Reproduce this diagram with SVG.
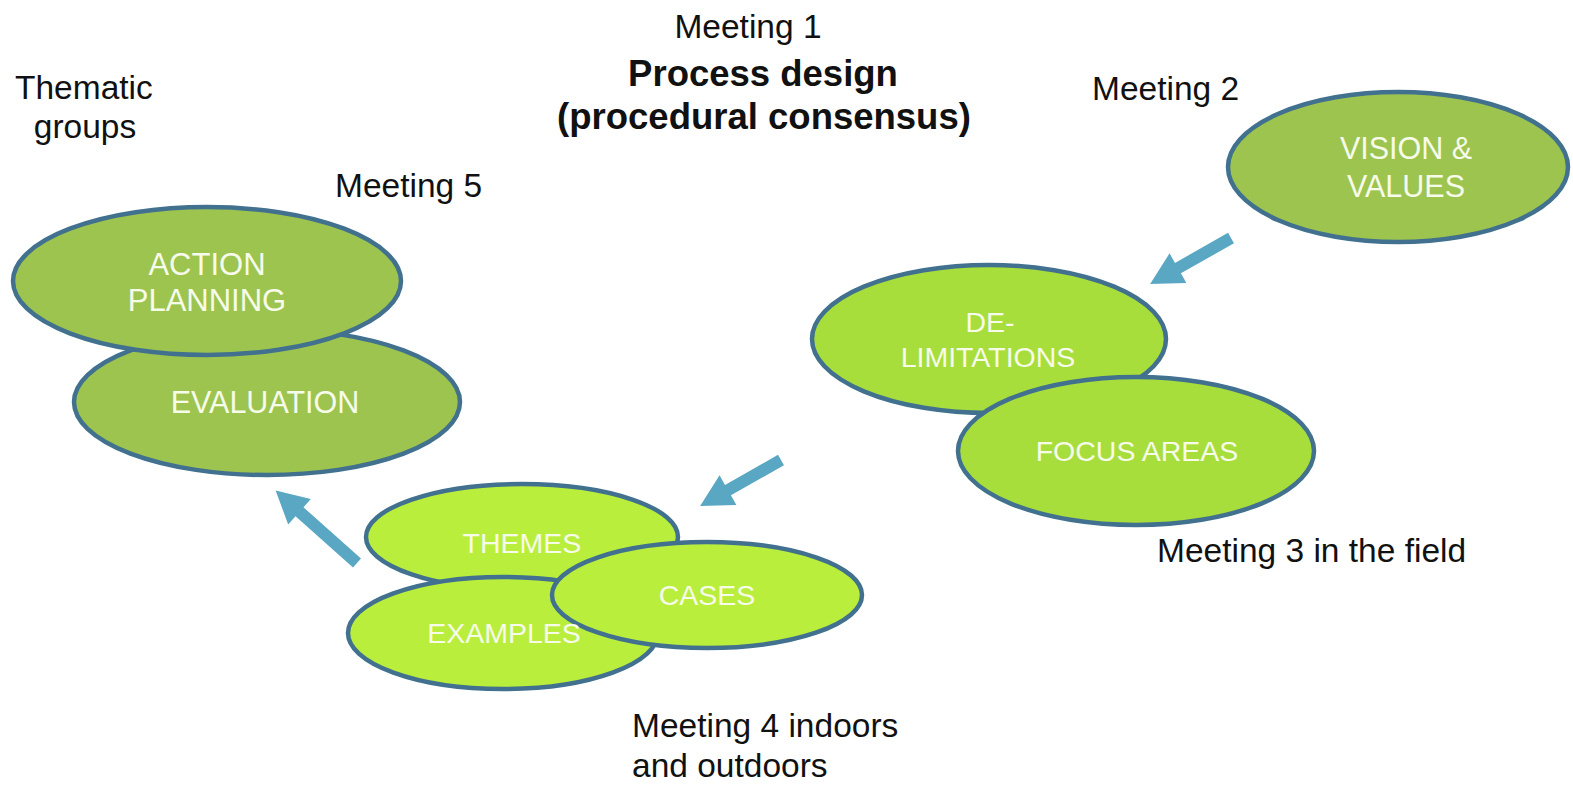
<svg xmlns="http://www.w3.org/2000/svg" width="1573" height="785" viewBox="0 0 1573 785">
<style>
.lbl{font-family:"Liberation Sans",Arial,sans-serif;font-size:33.5px;fill:#111}
.ttl{font-family:"Liberation Sans",Arial,sans-serif;font-size:36.5px;font-weight:bold;fill:#111;text-anchor:middle}
.node ellipse{stroke:#41718F;stroke-width:4.5}
.olive{fill:#9DC44F}
.mid{fill:#A8DE3C}
.lime{fill:#BAEE3C}
.nt{font-family:"Liberation Sans",Arial,sans-serif;font-size:28.5px;fill:#F6FBEA;text-anchor:middle}
.arrow{fill:#5AA7C4}
</style>
<rect width="1573" height="785" fill="#fff"/>
<g id="labels">
<text class="lbl" x="748" y="38" text-anchor="middle">Meeting 1</text>
<text class="ttl" x="763" y="86">Process design</text>
<text class="ttl" x="764" y="129">(procedural consensus)</text>
<text class="lbl" x="15" y="99">Thematic</text>
<text class="lbl" x="85" y="138" text-anchor="middle">groups</text>
<text class="lbl" x="1092" y="100">Meeting 2</text>
<text class="lbl" x="335" y="197">Meeting 5</text>
<text class="lbl" x="1157" y="562">Meeting 3 in the field</text>
<text class="lbl" x="632" y="737">Meeting 4 indoors</text>
<text class="lbl" x="632" y="777">and outdoors</text>
</g>
<g id="node-vision" class="node">
<ellipse class="olive" cx="1398" cy="167" rx="170" ry="75"/>
<text class="nt" x="1406" y="159" style="font-size:30.5px">VISION &amp;</text>
<text class="nt" x="1406" y="197" style="font-size:30.5px">VALUES</text>
</g>
<g id="node-delimitations" class="node">
<ellipse class="mid" cx="989" cy="339" rx="177" ry="74"/>
<text class="nt" x="990" y="332">DE-</text>
<text class="nt" x="988" y="367">LIMITATIONS</text>
</g>
<g id="node-focus" class="node">
<ellipse class="mid" cx="1136" cy="451" rx="178" ry="74"/>
<text class="nt" x="1137" y="461">FOCUS AREAS</text>
</g>
<g id="node-evaluation" class="node">
<ellipse class="olive" cx="267" cy="402" rx="193" ry="73"/>
<text class="nt" x="265" y="413" style="font-size:30.5px">EVALUATION</text>
</g>
<g id="node-action" class="node">
<ellipse class="olive" cx="207" cy="281" rx="194" ry="74"/>
<text class="nt" x="207" y="275" style="font-size:31px">ACTION</text>
<text class="nt" x="207" y="311" style="font-size:31px">PLANNING</text>
</g>
<g id="node-themes" class="node">
<ellipse class="lime" cx="522" cy="537" rx="156" ry="53"/>
<text class="nt" x="522" y="553">THEMES</text>
</g>
<g id="node-examples" class="node">
<ellipse class="lime" cx="503" cy="633" rx="155" ry="56"/>
</g>
<g id="node-cases" class="node">
<ellipse class="lime" cx="707" cy="595" rx="155" ry="53"/>
<text class="nt" x="707" y="605">CASES</text>
</g>
<g id="node-examples-label">
<text class="nt" x="504" y="643">EXAMPLES</text>
</g>
<g id="connectors">
<polygon class="arrow" transform="translate(1231,238) rotate(150.4)" points="0,-6 61,-6 61,-17 93,0 61,17 61,6 0,6"/>
<polygon class="arrow" transform="translate(781,460) rotate(150.4)" points="0,-6 61,-6 61,-17 93,0 61,17 61,6 0,6"/>
<polygon class="arrow" transform="translate(357,563) rotate(-138.3)" points="0,-6 77,-6 77,-17 109,0 77,17 77,6 0,6"/>
</g>
</svg>
